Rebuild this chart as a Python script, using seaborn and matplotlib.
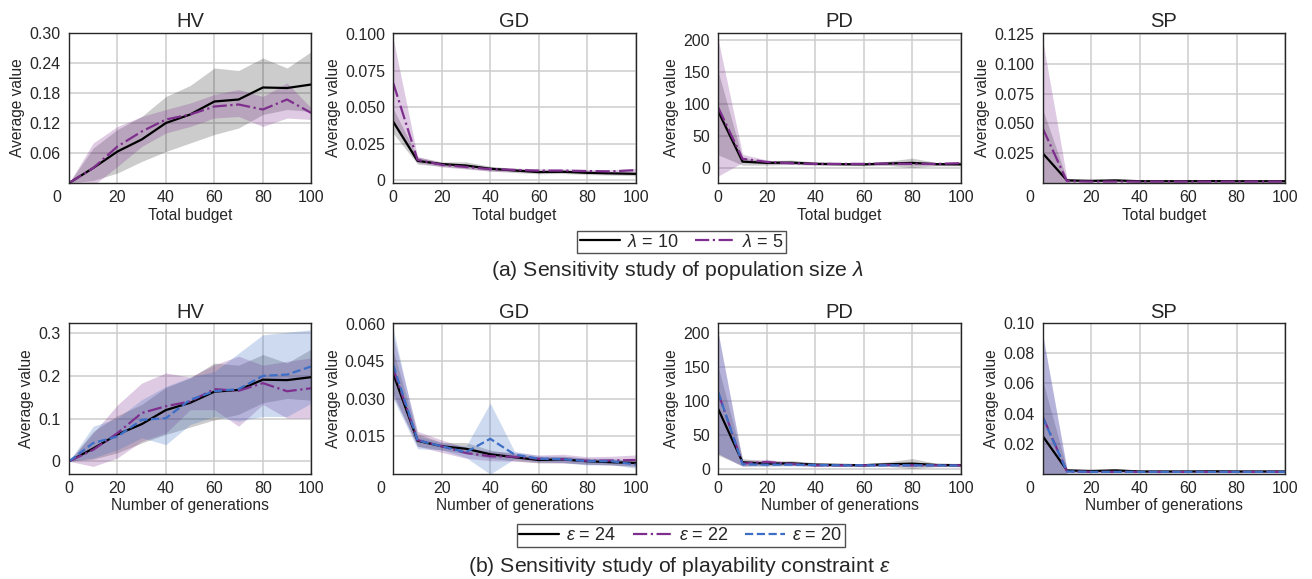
import matplotlib
matplotlib.use('Agg')
import matplotlib.pyplot as plt
import matplotlib.transforms as mtransforms
import seaborn as sns

# x axis: total budget / number of generations
x_steps = [0, 10, 20, 30, 40, 50, 60, 70, 80, 90, 100]

# ---- HV ----
hv_base = [0, 0.030, 0.063, 0.087, 0.120, 0.137, 0.163, 0.167, 0.191, 0.190, 0.197]
hv_base_hi = [0, 0.070, 0.107, 0.133, 0.173, 0.195, 0.230, 0.225, 0.250, 0.230, 0.263]
hv_base_lo = [0, 0.005, 0.020, 0.043, 0.063, 0.080, 0.097, 0.110, 0.137, 0.147, 0.143]
hv_l5 = [0, 0.030, 0.073, 0.103, 0.127, 0.137, 0.153, 0.157, 0.147, 0.167, 0.140]
hv_l5_hi = [0, 0.080, 0.113, 0.133, 0.147, 0.160, 0.177, 0.187, 0.173, 0.200, 0.150]
hv_l5_lo = [0, -0.005, 0.033, 0.073, 0.100, 0.113, 0.130, 0.133, 0.113, 0.130, 0.127]
hv_e22 = [0, 0.027, 0.066, 0.113, 0.129, 0.140, 0.169, 0.165, 0.183, 0.164, 0.171]
hv_e22_hi = [0, 0.066, 0.132, 0.183, 0.207, 0.197, 0.226, 0.246, 0.225, 0.234, 0.242]
hv_e22_lo = [0, -0.012, 0.008, 0.047, 0.066, 0.121, 0.121, 0.082, 0.133, 0.101, 0.101]
hv_e20 = [0, 0.043, 0.058, 0.097, 0.101, 0.144, 0.164, 0.169, 0.200, 0.203, 0.222]
hv_e20_hi = [0, 0.082, 0.101, 0.144, 0.175, 0.197, 0.210, 0.253, 0.296, 0.302, 0.308]
hv_e20_lo = [0, 0.008, 0.027, 0.055, 0.039, 0.086, 0.105, 0.094, 0.105, 0.105, 0.136]

# ---- GD ----
gd_base = [0.0400, 0.0132, 0.0110, 0.0100, 0.0078, 0.0066, 0.0055, 0.0057, 0.0050, 0.0046, 0.0043]
gd_base_hi = [0.0490, 0.0160, 0.0125, 0.0125, 0.0095, 0.0080, 0.0068, 0.0070, 0.0062, 0.0058, 0.0056]
gd_base_lo = [0.0320, 0.0110, 0.0095, 0.0080, 0.0062, 0.0052, 0.0043, 0.0045, 0.0038, 0.0034, 0.0030]
gd_l5 = [0.0665, 0.0139, 0.0105, 0.0090, 0.0075, 0.0070, 0.0065, 0.0065, 0.0062, 0.0060, 0.0068]
gd_l5_hi = [0.0970, 0.0160, 0.0120, 0.0105, 0.0088, 0.0082, 0.0078, 0.0077, 0.0073, 0.0071, 0.0080]
gd_l5_lo = [0.0380, 0.0120, 0.0090, 0.0076, 0.0062, 0.0058, 0.0053, 0.0053, 0.0051, 0.0049, 0.0056]
gd_e22 = [0.0420, 0.0135, 0.0110, 0.0083, 0.0070, 0.0068, 0.0060, 0.0058, 0.0052, 0.0053, 0.0055]
gd_e22_hi = [0.0550, 0.0170, 0.0135, 0.0105, 0.0090, 0.0085, 0.0075, 0.0078, 0.0068, 0.0070, 0.0075]
gd_e22_lo = [0.0310, 0.0110, 0.0085, 0.0062, 0.0052, 0.0050, 0.0045, 0.0042, 0.0038, 0.0036, 0.0030]
gd_e20 = [0.0436, 0.0134, 0.0110, 0.0086, 0.0140, 0.0077, 0.0060, 0.0058, 0.0050, 0.0050, 0.0037]
gd_e20_hi = [0.0580, 0.0150, 0.0125, 0.0110, 0.0283, 0.0090, 0.0072, 0.0070, 0.0062, 0.0062, 0.0050]
gd_e20_lo = [0.0300, 0.0100, 0.0095, 0.0065, -0.0002, 0.0060, 0.0048, 0.0045, 0.0035, 0.0036, 0.0022]

# ---- PD ----
pd_base = [88, 9.5, 7.5, 8, 6, 5.5, 5.2, 6.5, 7.5, 5.5, 5.2]
pd_base_hi = [150, 15, 11, 12, 9, 8, 7.5, 10, 15, 8, 8]
pd_base_lo = [20, 4, 4, 5, 4, 3.5, 3, 3.5, 0, 3, 3]
pd_l5 = [94, 14, 9, 7, 6, 6, 6, 6.5, 6, 6, 7]
pd_l5_hi = [200, 21, 12, 9, 8, 8, 8, 9, 9, 8, 10]
pd_l5_lo = [-13, 8, 6, 5, 4.5, 4.5, 4.5, 4.5, 4, 4, 4.5]
pd_e22 = [112, 7.5, 10, 7, 5, 5, 5, 5.5, 5, 5, 5]
pd_e22_hi = [200, 12, 14, 9, 7, 7, 7, 7.5, 7, 7, 7]
pd_e22_lo = [22, 4, 6, 5, 3.5, 3.5, 3.5, 4, 3.5, 3.5, 3.5]
pd_e20 = [113, 6.5, 6, 6, 5.5, 5, 5, 5, 5, 5, 4.5]
pd_e20_hi = [200, 10, 9, 8.5, 8, 7, 7, 7, 7, 7, 6.5]
pd_e20_lo = [22, 4, 4, 4, 3.5, 3.5, 3.5, 3.5, 3.5, 3.5, 3]

# ---- SP ----
sp_base = [0.0250, 0.0022, 0.0018, 0.0022, 0.0015, 0.0015, 0.0015, 0.0016, 0.0015, 0.0015, 0.0015]
sp_base_hi = [0.0620, 0.0032, 0.0025, 0.0032, 0.0022, 0.0021, 0.0021, 0.0025, 0.0022, 0.0021, 0.0021]
sp_base_lo = [-0.0120, 0.0012, 0.0011, 0.0012, 0.0009, 0.0009, 0.0009, 0.0008, 0.0009, 0.0009, 0.0009]
sp_l5 = [0.0460, 0.0015, 0.0012, 0.0012, 0.0012, 0.0012, 0.0012, 0.0012, 0.0012, 0.0012, 0.0012]
sp_l5_hi = [0.1200, 0.0040, 0.0018, 0.0018, 0.0018, 0.0018, 0.0018, 0.0018, 0.0018, 0.0018, 0.0018]
sp_l5_lo = [-0.0280, 0.0000, 0.0006, 0.0006, 0.0006, 0.0006, 0.0006, 0.0006, 0.0006, 0.0006, 0.0006]
sp_e22 = [0.0380, 0.0015, 0.0012, 0.0012, 0.0012, 0.0012, 0.0012, 0.0012, 0.0012, 0.0012, 0.0012]
sp_e22_hi = [0.0920, 0.0030, 0.0018, 0.0018, 0.0018, 0.0018, 0.0018, 0.0018, 0.0018, 0.0018, 0.0018]
sp_e22_lo = [-0.0160, 0.0005, 0.0006, 0.0006, 0.0006, 0.0006, 0.0006, 0.0006, 0.0006, 0.0006, 0.0006]
sp_e20 = [0.0375, 0.0015, 0.0012, 0.0012, 0.0012, 0.0012, 0.0012, 0.0012, 0.0012, 0.0012, 0.0012]
sp_e20_hi = [0.0930, 0.0030, 0.0018, 0.0018, 0.0018, 0.0018, 0.0018, 0.0018, 0.0018, 0.0018, 0.0018]
sp_e20_lo = [-0.0170, 0.0005, 0.0006, 0.0006, 0.0006, 0.0006, 0.0006, 0.0006, 0.0006, 0.0006, 0.0006]

metric_names = ['HV', 'GD', 'PD', 'SP']
top_labels = [r'$\mathit{\lambda}$ = 10', r'$\mathit{\lambda}$ = 5']
bottom_labels = [r'$\mathit{\varepsilon}$ = 24', r'$\mathit{\varepsilon}$ = 22', r'$\mathit{\varepsilon}$ = 20']

top_yticks = [[0.06, 0.12, 0.18, 0.24, 0.30], [0, 0.025, 0.05, 0.075, 0.1],
              [0, 50, 100, 150, 200], [0.025, 0.05, 0.075, 0.1, 0.125]]
top_yticklabels = [['0.06', '0.12', '0.18', '0.24', '0.30'], ['0', '0.025', '0.050', '0.075', '0.100'],
                   ['0', '50', '100', '150', '200'], ['0.025', '0.050', '0.075', '0.100', '0.125']]
top_ylims = [(0, 0.30), (-0.002, 0.101), (-24, 211), (0, 0.126)]
bottom_yticks = [[0, 0.1, 0.2, 0.3], [0.015, 0.03, 0.045, 0.06],
                 [0, 50, 100, 150, 200], [0.02, 0.04, 0.06, 0.08, 0.10]]
bottom_yticklabels = [['0', '0.1', '0.2', '0.3'], ['0.015', '0.030', '0.045', '0.060'],
                      ['0', '50', '100', '150', '200'], ['0.02', '0.04', '0.06', '0.08', '0.10']]
bottom_ylims = [(-0.029, 0.323), (0, 0.0603), (-7.4, 215), (0, 0.1)]

top_series = [
    [(hv_base, hv_base_lo, hv_base_hi), (hv_l5, hv_l5_lo, hv_l5_hi)],
    [(gd_base, gd_base_lo, gd_base_hi), (gd_l5, gd_l5_lo, gd_l5_hi)],
    [(pd_base, pd_base_lo, pd_base_hi), (pd_l5, pd_l5_lo, pd_l5_hi)],
    [(sp_base, sp_base_lo, sp_base_hi), (sp_l5, sp_l5_lo, sp_l5_hi)],
]
bottom_series = [
    [(hv_base, hv_base_lo, hv_base_hi), (hv_e22, hv_e22_lo, hv_e22_hi), (hv_e20, hv_e20_lo, hv_e20_hi)],
    [(gd_base, gd_base_lo, gd_base_hi), (gd_e22, gd_e22_lo, gd_e22_hi), (gd_e20, gd_e20_lo, gd_e20_hi)],
    [(pd_base, pd_base_lo, pd_base_hi), (pd_e22, pd_e22_lo, pd_e22_hi), (pd_e20, pd_e20_lo, pd_e20_hi)],
    [(sp_base, sp_base_lo, sp_base_hi), (sp_e22, sp_e22_lo, sp_e22_hi), (sp_e20, sp_e20_lo, sp_e20_hi)],
]

colors = ['#000000', '#7E2F8E', '#3D6FC6']
styles = ['-', '-.', '--']
band_alpha = [0.2, 0.25, 0.25]

sns.set_style('white')
plt.rcParams['font.family'] = ['Liberation Sans', 'DejaVu Sans']
plt.rcParams['mathtext.fontset'] = 'custom'
plt.rcParams['mathtext.it'] = 'Liberation Sans:italic'
plt.rcParams['mathtext.rm'] = 'Liberation Sans'
plt.rcParams['text.color'] = '#262626'

W, H = 1312, 579
fig = plt.figure(figsize=(W / 100, H / 100), dpi=100)

lefts = [69, 393.3, 718.3, 1042.7]
ax_w = 242.3


def make_axes(left, top, height):
    return fig.add_axes([left / W, 1 - (top + height) / H, ax_w / W, height / H])


def draw_row(top, height, series, labels, yticks, yticklabels, ylims, xlabel, corner_zero):
    handles = None
    for i in range(4):
        ax = make_axes(lefts[i], top, height)
        ax.set_axisbelow(True)
        for k, (mean, lo, hi) in enumerate(series[i]):
            ax.fill_between(x_steps, lo, hi, color=colors[k], alpha=band_alpha[k], linewidth=0)
        for k, (mean, lo, hi) in enumerate(series[i]):
            sns.lineplot(x=x_steps, y=mean, ax=ax, color=colors[k], linestyle=styles[k],
                         linewidth=1.6, label=labels[k])
        h, l = ax.get_legend_handles_labels()
        handles = h
        if ax.get_legend() is not None:
            ax.get_legend().remove()
        ax.set_xlim(0, 100)
        ax.set_ylim(*ylims[i])
        ax.set_xticks([0, 20, 40, 60, 80, 100])
        ax.set_yticks(yticks[i])
        ax.set_yticklabels(yticklabels[i])
        ax.grid(True, color='#cdcdcd', linewidth=1.1)
        for s in ax.spines.values():
            s.set_color('#262626')
            s.set_linewidth(1.0)
        ax.tick_params(axis='x', direction='in', length=3, pad=5, labelsize=11.5, colors='#262626')
        ax.tick_params(axis='y', direction='out', length=2, pad=4, labelsize=11.5, colors='#262626')
        ax.set_title(metric_names[i], fontsize=14.5, pad=4)
        ax.set_ylabel('Average value', fontsize=11.2, labelpad=3)
        ax.set_xlabel(xlabel, fontsize=11.2, labelpad=2)
        if corner_zero[i]:
            tick0 = ax.xaxis.get_major_ticks()[0]
            off = mtransforms.ScaledTranslation(-0.125, 0, fig.dpi_scale_trans)
            tick0.label1.set_transform(tick0.label1.get_transform() + off)
    return handles


h_top = draw_row(33, 150, top_series, top_labels, top_yticks, top_yticklabels, top_ylims,
                 'Total budget', [True, False, False, True])
h_bot = draw_row(323.3, 150.4, bottom_series, bottom_labels, bottom_yticks, bottom_yticklabels,
                 bottom_ylims, 'Number of generations', [False, True, False, True])

leg_kw = dict(loc='center', frameon=True, fancybox=False, edgecolor='#262626', fontsize=13,
              handlelength=2.2, handletextpad=0.4, columnspacing=0.9, borderpad=0.15,
              borderaxespad=0)
lg1 = fig.legend(h_top, top_labels, ncol=2, bbox_to_anchor=(681.5 / W, 1 - 242 / H), **leg_kw)
lg2 = fig.legend(h_bot, bottom_labels, ncol=3, bbox_to_anchor=(680.7 / W, 1 - 535.5 / H), **leg_kw)
for lg in (lg1, lg2):
    lg.get_frame().set_linewidth(1.0)

fig.text(677 / W, 1 - 270 / H, r'(a) Sensitivity study of population size $\mathit{\lambda}$',
         ha='center', va='center', fontsize=15.3)
fig.text(679 / W, 1 - 567 / H, r'(b) Sensitivity study of playability constraint $\mathit{\varepsilon}$',
         ha='center', va='center', fontsize=15.3)

fig.savefig('out.png', dpi=100)
